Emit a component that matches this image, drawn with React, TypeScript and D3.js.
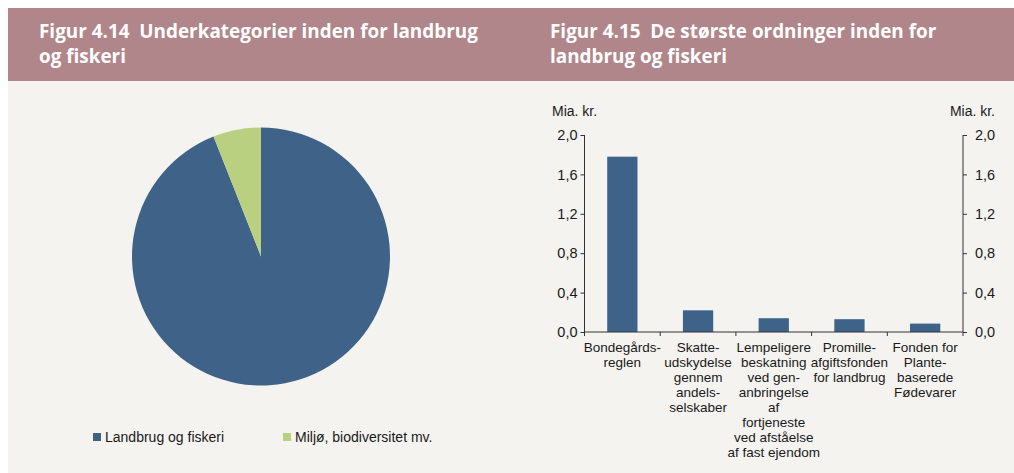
import React, { useEffect, useRef } from 'react';
import * as d3 from 'd3';

// pie (figur 4.14), shares in percent
const pieLabels = ['Landbrug og fiskeri', 'Miljø, biodiversitet mv.'];
const pieValues = [94, 6];
const pieColors = ['#3f6388', '#b9d080'];

// bars (figur 4.15), mia. kr.
const barCategories = ['Bondegårdsreglen', 'Skatteudskydelse', 'Lempeligere beskatning', 'Promilleafgiftsfonden', 'Fonden for Plantebaserede'];
const barValues = [1.78, 0.22, 0.14, 0.13, 0.085];
const barLabelLines = [
  ['Bondegårds-', 'reglen'],
  ['Skatte-', 'udskydelse', 'gennem', 'andels-', 'selskaber'],
  ['Lempeligere', 'beskatning', 'ved gen-', 'anbringelse', 'af', 'fortjeneste', 'ved afståelse', 'af fast ejendom'],
  ['Promille-', 'afgiftsfonden', 'for landbrug'],
  ['Fonden for', 'Plante-', 'baserede', 'Fødevarer'],
];
const yTicks = [0, 0.4, 0.8, 1.2, 1.6, 2.0];

const titleLeft = ['Figur 4.14  Underkategorier inden for landbrug', 'og fiskeri'];
const titleRight = ['Figur 4.15  De største ordninger inden for', 'landbrug og fiskeri'];

const W = 1014;
const H = 473;
const FONT = '"Liberation Sans", Arial, sans-serif';
const TEXT = '#1a1a1a';

const App: React.FC = () => {
  const svgRef = useRef<SVGSVGElement>(null);

  useEffect(() => {
    if (!svgRef.current) return;
    const svg = d3.select(svgRef.current);
    svg.selectAll('*').remove();

    // backgrounds
    svg.append('rect').attr('x', 8).attr('y', 8).attr('width', W - 8).attr('height', H - 8).attr('fill', '#f4f3ef');
    svg.append('rect').attr('x', 8).attr('y', 8).attr('width', W - 8).attr('height', 73).attr('fill', '#b0868a');

    const titles = svg.append('g').attr('font-family', '"Open Sans", Lato, sans-serif').attr('font-weight', 700).attr('font-size', 18.9).attr('fill', '#ffffff');
    [
      { x: 39, lines: titleLeft },
      { x: 550, lines: titleRight },
    ].forEach((t) => {
      t.lines.forEach((l, i) => {
        titles.append('text').attr('x', t.x).attr('y', 38 + i * 25).attr('xml:space', 'preserve').style('white-space', 'pre').text(l);
      });
    });

    // ---- pie ----
    const pie = d3.pie<number>().sort(null).value((d) => d);
    const arc = d3.arc<d3.PieArcDatum<number>>().innerRadius(0).outerRadius(129);
    const pieG = svg.append('g').attr('transform', 'translate(261, 256.5)');
    pieG
      .selectAll('path')
      .data(pie(pieValues))
      .enter()
      .append('path')
      .attr('d', arc)
      .attr('fill', (_d, i) => pieColors[i]);

    const legend = svg.append('g').attr('font-family', FONT).attr('font-size', 14).attr('fill', TEXT);
    const legendX = [93, 283];
    pieLabels.forEach((lab, i) => {
      legend.append('rect').attr('x', legendX[i]).attr('y', 433).attr('width', 8).attr('height', 8).attr('fill', pieColors[i]);
      legend.append('text').attr('x', legendX[i] + 12).attr('y', 442).text(lab);
    });

    // ---- bars ----
    const x0 = 584.5;
    const x1 = 963;
    const xScale = d3.scaleBand<string>().domain(barCategories).range([x0, x1]).paddingInner(0.6).paddingOuter(0.3);
    const yScale = d3.scaleLinear().domain([0, 2]).range([332, 135]);
    const fmt = (v: number) => d3.format('.1f')(v).replace('.', ',');

    const barG = svg.append('g');
    barG
      .selectAll('rect')
      .data(barValues)
      .enter()
      .append('rect')
      .attr('x', (_d, i) => xScale(barCategories[i])!)
      .attr('width', xScale.bandwidth())
      .attr('y', (d) => yScale(d))
      .attr('height', (d) => yScale(0) - yScale(d))
      .attr('fill', '#3f6388');

    const leftAxis = svg
      .append('g')
      .attr('transform', `translate(${x0}, 0)`)
      .call(d3.axisLeft(yScale).tickValues(yTicks).tickFormat((d) => fmt(d as number)).tickSize(4).tickPadding(3));
    const rightAxis = svg
      .append('g')
      .attr('transform', `translate(${x1}, 0)`)
      .call(d3.axisRight(yScale).tickValues(yTicks).tickFormat((d) => fmt(d as number)).tickSize(4).tickPadding(8));
    [leftAxis, rightAxis].forEach((a) => {
      a.select('.domain').attr('stroke', '#333').attr('d', `M0,${yScale(2)}V${yScale(0)}`);
      a.selectAll('line').attr('stroke', '#333');
      a.selectAll('text').attr('font-family', FONT).attr('font-size', 14.5).attr('fill', TEXT);
    });

    // x axis with ticks at band boundaries
    const step = xScale.step();
    const bottom = svg.append('g').attr('stroke', '#333');
    bottom.append('line').attr('x1', x0).attr('x2', x1).attr('y1', yScale(0)).attr('y2', yScale(0));
    d3.range(barCategories.length + 1).forEach((i) => {
      const bx = x0 + i * step;
      bottom.append('line').attr('x1', bx).attr('x2', bx).attr('y1', yScale(0)).attr('y2', yScale(0) + 4);
    });

    const catG = svg.append('g').attr('font-family', FONT).attr('font-size', 13.5).attr('fill', TEXT).attr('text-anchor', 'middle');
    barLabelLines.forEach((lines, i) => {
      const cx = xScale(barCategories[i])! + xScale.bandwidth() / 2;
      lines.forEach((l, j) => {
        catG.append('text').attr('x', cx).attr('y', 352 + j * 15).text(l);
      });
    });

    const units = svg.append('g').attr('font-family', FONT).attr('font-size', 14).attr('fill', TEXT);
    units.append('text').attr('x', 552).attr('y', 116).text('Mia. kr.');
    units.append('text').attr('x', 995).attr('y', 116).attr('text-anchor', 'end').text('Mia. kr.');
  }, []);

  return (
    <svg
      ref={svgRef}
      width={W}
      height={H}
      style={{ position: 'absolute', left: 0, top: 0, display: 'block', background: '#ffffff' }}
    ></svg>
  );
};

export default App;
